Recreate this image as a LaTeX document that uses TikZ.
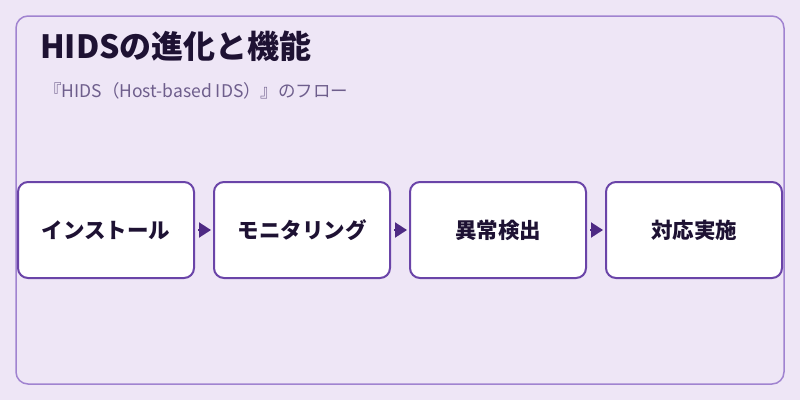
\documentclass[tikz,border=0pt]{standalone}
\usepackage{fontspec}
\setmainfont{Noto Sans CJK JP}
\usepackage{tikz}
\usetikzlibrary{arrows.meta, positioning}
\definecolor{bgpurple}{HTML}{EEE6F6}
\definecolor{framepurple}{HTML}{A083D0}
\definecolor{boxpurple}{HTML}{6A44A8}
\definecolor{arrowpurple}{HTML}{4E2A84}
\definecolor{inkdark}{HTML}{1E1233}
\definecolor{subgrey}{HTML}{6E5E8C}

\begin{document}
\begin{tikzpicture}[x=1pt, y=-1pt,
  stepbox/.style={draw=boxpurple, line width=2pt, fill=white, rounded corners=10pt,
    minimum width=176pt, minimum height=96pt, inner sep=0pt,
    font=\fontsize{21.5}{24}\selectfont\bfseries, text=inkdark},
  flow/.style={arrowpurple, line width=2pt, -{Triangle[length=12pt, width=15pt]}, shorten <=3pt, shorten >=2pt}]
% Background and frame
\useasboundingbox[fill=bgpurple] (0,0) rectangle (800,400);
\draw[framepurple, line width=1.5pt, rounded corners=12pt] (16,16) rectangle (784,384);

% Title
\node[anchor=base west, inner sep=0pt, font=\fontsize{32}{36}\selectfont\bfseries, text=inkdark] (title) at (40,58) {HIDSの進化と機能};
\node[anchor=base west, inner sep=0pt, font=\fontsize{17.5}{20}\selectfont, text=subgrey] (subtitle) at (44,97) {『HIDS（Host-based IDS）』のフロー};

% Steps
\node[stepbox] (s1) at (106,230) {インストール};
\node[stepbox] (s2) at (302,230) {モニタリング};
\node[stepbox] (s3) at (498,230) {異常検出};
\node[stepbox] (s4) at (694,230) {対応実施};

% Arrows
\foreach \a/\b in {s1/s2, s2/s3, s3/s4} {
  \draw[flow] (\a.east) -- (\b.west);
}
\end{tikzpicture}
\end{document}
